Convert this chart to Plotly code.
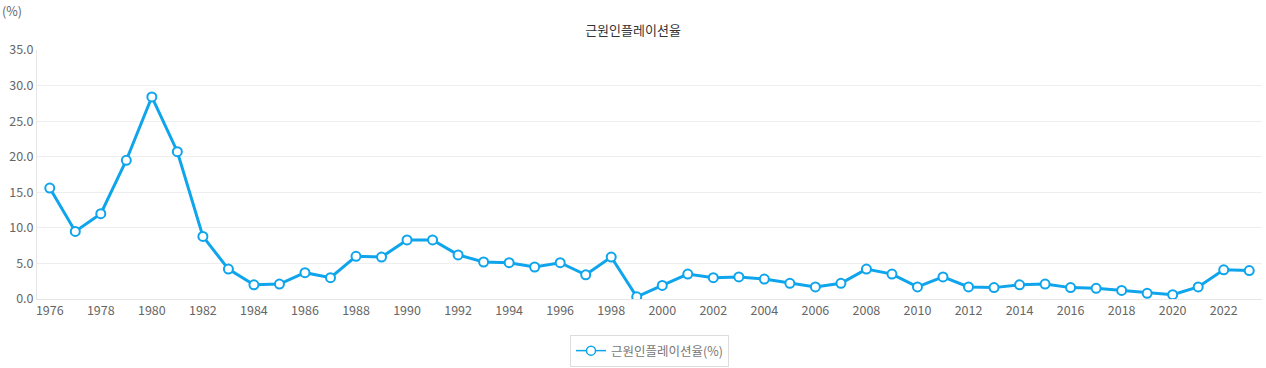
import plotly.graph_objects as go

years = [str(y) for y in range(1976, 2024)]
values = [15.6, 9.5, 12.0, 19.5, 28.4, 20.7, 8.8, 4.2, 2.0, 2.1,
          3.7, 3.0, 6.0, 5.9, 8.3, 8.3, 6.2, 5.2, 5.1, 4.5,
          5.1, 3.4, 5.9, 0.3, 1.9, 3.5, 3.0, 3.1, 2.8, 2.2,
          1.7, 2.2, 4.2, 3.5, 1.7, 3.1, 1.7, 1.6, 2.0, 2.1,
          1.6, 1.5, 1.2, 0.8, 0.6, 1.7, 4.1, 4.0]
tick_years = [str(y) for y in range(1976, 2024, 2)]
y_ticks = [0, 5, 10, 15, 20, 25, 30, 35]
series_name = "근원인플레이션율(%)"

FONT = "Noto Sans CJK KR"
BLUE = "#0ea5ec"

fig = go.Figure()
fig.add_trace(go.Scatter(
    x=years, y=values, mode="lines+markers", name=series_name, showlegend=False,
    line=dict(color=BLUE, width=3),
    marker=dict(symbol="circle", size=9, color="white", line=dict(color=BLUE, width=2)),
))
# legend entry (thinner symbol like the reference)
fig.add_trace(go.Scatter(
    x=[None], y=[None], mode="lines+markers", name=series_name, showlegend=True,
    line=dict(color=BLUE, width=1.5),
    marker=dict(symbol="circle", size=9, color="white", line=dict(color=BLUE, width=1.5)),
))

fig.update_layout(
    width=1266, height=368,
    margin=dict(l=37, r=4, t=50, b=69, autoexpand=False),
    paper_bgcolor="white", plot_bgcolor="white",
    font=dict(family=FONT, size=12, color="#666"),
    title=dict(text="근원인플레이션율", x=0.5, xanchor="center", y=1 - 30 / 368, yanchor="middle",
               font=dict(family=FONT, size=13, color="#333")),
    showlegend=True,
    legend=dict(orientation="h", x=0.5, xanchor="center", yref="container", y=33 / 368,
                yanchor="top", bordercolor="#dddddd", borderwidth=1,
                font=dict(size=12.5, color="#777")),
    xaxis=dict(type="category", range=[-0.5, 47.5], tickmode="array", tickvals=tick_years,
               ticktext=tick_years, showgrid=False, showline=True, linecolor="#e6e6e6",
               ticks="", tickfont=dict(size=12.5, color="#666"), automargin=False),
    yaxis=dict(range=[0, 35], tickvals=y_ticks, tickformat=".1f", showgrid=True,
               gridcolor="#eeeeee", showline=True, linecolor="#e6e6e6", zeroline=False,
               ticks="", tickfont=dict(size=12.5, color="#666"), automargin=False),
    annotations=[dict(text="(%)", xref="paper", yref="paper", x=0, y=1, xshift=-37, yshift=40,
                      xanchor="left", yanchor="middle", showarrow=False,
                      font=dict(size=12.5, color="#666"))],
)

fig.write_html("out.html", config={"displayModeBar": False},
               post_script="document.body.style.margin='0';")
